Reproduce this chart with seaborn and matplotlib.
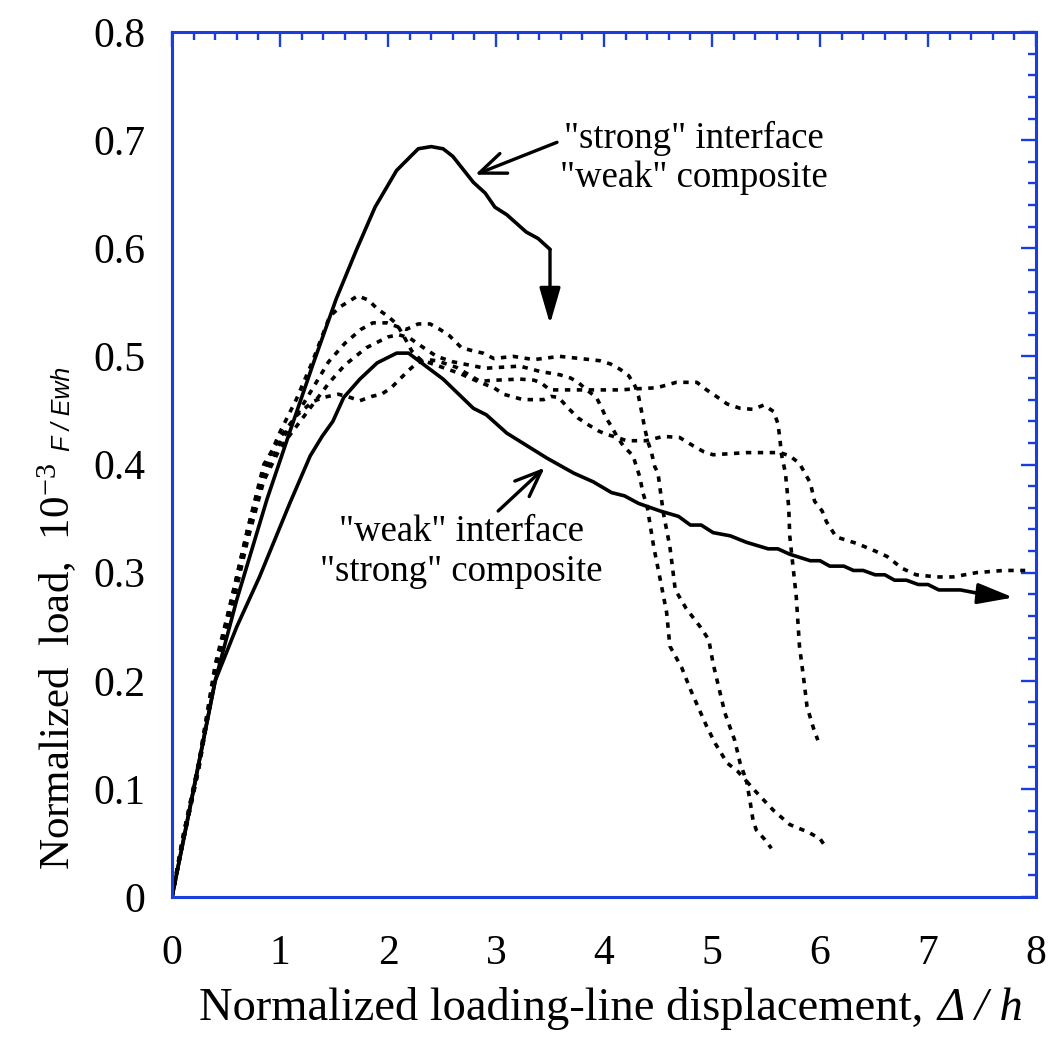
import numpy as np
import pandas as pd
import matplotlib
matplotlib.use("Agg")
import matplotlib.pyplot as plt
import seaborn as sns

# ---------------- data ----------------
strong_x = [0, 0.2, 0.4, 0.6, 0.88, 1.09, 1.31, 1.52, 1.71, 1.88, 2.08, 2.28, 2.40,
            2.51, 2.60, 2.79, 2.90, 2.99, 3.10, 3.28, 3.39, 3.50]
strong_y = [0, 0.1, 0.2, 0.275, 0.368, 0.43, 0.494, 0.553, 0.599, 0.638, 0.672, 0.692,
            0.694, 0.692, 0.685, 0.661, 0.651, 0.638, 0.631, 0.615, 0.609, 0.599]

weak_x = [0, 0.17, 0.40, 0.60, 0.81, 1.09, 1.28, 1.39, 1.49, 1.59, 1.74, 1.90, 2.08,
          2.19, 2.27, 2.51, 2.79, 2.91, 3.10, 3.47, 3.72, 3.90, 4.07, 4.19, 4.32, 4.52,
          4.69, 4.80, 4.90, 5.01, 5.17, 5.32, 5.52, 5.61, 5.72, 5.91, 6.00, 6.09, 6.22,
          6.31, 6.40, 6.51, 6.60, 6.69, 6.80, 6.91, 7.00, 7.10, 7.30, 7.51]
weak_y = [0, 0.084, 0.20, 0.25, 0.296, 0.364, 0.408, 0.426, 0.44, 0.462, 0.479, 0.494,
          0.503, 0.503, 0.497, 0.479, 0.452, 0.446, 0.429, 0.406, 0.392, 0.384, 0.374,
          0.371, 0.364, 0.357, 0.352, 0.344, 0.344, 0.337, 0.334, 0.328, 0.322, 0.322,
          0.317, 0.311, 0.311, 0.306, 0.306, 0.302, 0.302, 0.298, 0.298, 0.293, 0.293,
          0.289, 0.289, 0.284, 0.284, 0.280]

dot1_x = [0, 0.1, 0.25, 0.4, 0.55, 0.7, 0.85, 1.0, 1.15, 1.3, 1.46, 1.56, 1.72, 1.82,
          1.9, 2.0, 2.08, 2.15, 2.22, 2.3, 2.5, 2.67, 2.85, 2.98, 3.07, 3.25, 3.44, 3.51,
          3.58, 3.67, 3.76, 3.85, 3.95, 4.02, 4.12, 4.21, 4.39, 4.55, 4.70, 4.83, 4.92,
          5.01, 5.32, 5.63, 5.72, 5.81, 5.86, 5.91, 5.95, 6.02, 6.06, 6.15, 6.34, 6.51,
          6.62, 6.76, 6.89, 7.08, 7.23, 7.45, 7.70, 7.90]
dot1_y = [0, 0.055, 0.125, 0.215, 0.275, 0.34, 0.395, 0.43, 0.46, 0.495, 0.537, 0.546,
          0.556, 0.552, 0.544, 0.537, 0.53, 0.518, 0.505, 0.497, 0.49, 0.484, 0.476,
          0.471, 0.465, 0.46, 0.46, 0.463, 0.462, 0.452, 0.443, 0.437, 0.431, 0.428,
          0.425, 0.422, 0.422, 0.426, 0.425, 0.417, 0.412, 0.409, 0.411, 0.411, 0.408,
          0.401, 0.392, 0.383, 0.366, 0.357, 0.347, 0.333, 0.327, 0.320, 0.315, 0.304,
          0.298, 0.296, 0.296, 0.300, 0.302, 0.302]

dot2_x = [0, 0.1, 0.25, 0.4, 0.55, 0.7, 0.85, 1.0, 1.15, 1.3, 1.45, 1.6, 1.75, 1.86,
          1.99, 2.1, 2.17, 2.28, 2.39, 2.48, 2.57, 2.68, 2.79, 2.88, 2.98, 3.16, 3.35,
          3.59, 3.78, 3.96, 4.06, 4.15, 4.23, 4.29, 4.32, 4.35, 4.38, 4.41, 4.44, 4.47,
          4.50, 4.52, 4.55, 4.61, 4.66, 4.76, 4.89, 4.97, 5.01, 5.06, 5.12, 5.21, 5.26,
          5.32, 5.41, 5.57, 5.72, 5.89, 6.00, 6.06]
dot2_y = [0, 0.05, 0.12, 0.21, 0.27, 0.335, 0.39, 0.42, 0.445, 0.47, 0.495, 0.512,
          0.525, 0.531, 0.531, 0.527, 0.525, 0.530, 0.530, 0.525, 0.519, 0.508, 0.505,
          0.503, 0.498, 0.500, 0.497, 0.500, 0.498, 0.496, 0.493, 0.488, 0.482, 0.472,
          0.463, 0.448, 0.432, 0.420, 0.411, 0.398, 0.392, 0.377, 0.355, 0.324, 0.284,
          0.267, 0.250, 0.238, 0.216, 0.195, 0.170, 0.145, 0.124, 0.107, 0.097, 0.080,
          0.067, 0.060, 0.054, 0.045]

dot3_x = [0, 0.1, 0.25, 0.4, 0.55, 0.7, 0.85, 1.0, 1.15, 1.3, 1.45, 1.6, 1.8, 2.0,
          2.1, 2.2, 2.3, 2.45, 2.6, 2.75, 2.90, 3.22, 3.41, 3.59, 3.69, 3.76, 3.84, 3.93,
          3.98, 4.02, 4.07, 4.12, 4.18, 4.27, 4.30, 4.33, 4.36, 4.40, 4.46, 4.52, 4.58,
          4.61, 4.72, 4.80, 4.87, 4.95, 5.03, 5.14, 5.24, 5.32, 5.35, 5.38, 5.41, 5.49,
          5.55]
dot3_y = [0, 0.05, 0.12, 0.205, 0.265, 0.33, 0.385, 0.415, 0.435, 0.455, 0.475, 0.492,
          0.508, 0.518, 0.52, 0.517, 0.51, 0.50, 0.495, 0.492, 0.489, 0.491, 0.486,
          0.483, 0.48, 0.476, 0.469, 0.462, 0.452, 0.443, 0.435, 0.426, 0.417, 0.408,
          0.398, 0.389, 0.374, 0.361, 0.324, 0.294, 0.263, 0.232, 0.212, 0.192, 0.176,
          0.158, 0.142, 0.124, 0.116, 0.107, 0.09, 0.071, 0.062, 0.053, 0.045]

dot4_x = [0, 0.1, 0.25, 0.4, 0.55, 0.7, 0.85, 1.0, 1.15, 1.3, 1.40, 1.54, 1.62, 1.74,
          1.85, 1.94, 2.03, 2.11, 2.19, 2.27, 2.36, 2.45, 2.54, 2.63, 2.75, 2.85, 3.0,
          3.22, 3.35, 3.41, 3.50, 3.62, 3.78, 3.96, 4.15, 4.30, 4.49, 4.67, 4.86, 4.95,
          5.04, 5.14, 5.26, 5.38, 5.48, 5.57, 5.61, 5.63, 5.64, 5.68, 5.71, 5.72, 5.74,
          5.78, 5.81, 5.85, 5.88, 5.94, 5.98]
dot4_y = [0, 0.055, 0.125, 0.21, 0.275, 0.34, 0.40, 0.425, 0.445, 0.458, 0.462, 0.465,
          0.463, 0.459, 0.463, 0.465, 0.471, 0.479, 0.487, 0.494, 0.497, 0.496, 0.493,
          0.490, 0.483, 0.477, 0.478, 0.479, 0.478, 0.476, 0.469, 0.469, 0.469, 0.469,
          0.469, 0.470, 0.471, 0.476, 0.476, 0.469, 0.463, 0.456, 0.452, 0.451, 0.455,
          0.449, 0.438, 0.423, 0.411, 0.392, 0.361, 0.334, 0.315, 0.278, 0.232, 0.201,
          0.176, 0.156, 0.145]

# annotation arrows: (tail, head)
arrow_strong_label = [(3.565, 0.698), (2.806, 0.668)]
arrow_strong_down = [(3.50, 0.599), (3.50, 0.530)]
arrow_weak_label = [(3.02, 0.357), (3.45, 0.397)]
arrow_weak_end = [(7.51, 0.280), (7.79, 0.277)]

label_strong = ['"strong" interface', '"weak" composite']
label_strong_pos = [(4.83, 0.693), (4.83, 0.657)]
label_weak = ['"weak" interface', '"strong" composite']
label_weak_pos = [(2.68, 0.329), (2.68, 0.292)]

x_ticks = [0, 1, 2, 3, 4, 5, 6, 7, 8]
x_ticklabels = ['0', '1', '2', '3', '4', '5', '6', '7', '8']
y_ticks = [0, 0.1, 0.2, 0.3, 0.4, 0.5, 0.6, 0.7, 0.8]
y_ticklabels = ['0', '0.1', '0.2', '0.3', '0.4', '0.5', '0.6', '0.7', '0.8']

xlabel_main = 'Normalized loading-line displacement,'
xlabel_ital = '\u0394 / h'
ylabel_main = 'Normalized  load,  10$^{-3}$'
ylabel_sans = 'F / Ewh'

# ---------------- style ----------------
sns.set_theme(style="white")
plt.rcParams['font.family'] = ['Liberation Serif', 'DejaVu Serif']
plt.rcParams['mathtext.fontset'] = 'custom'
plt.rcParams['mathtext.rm'] = 'Liberation Serif'
plt.rcParams['mathtext.it'] = 'Liberation Serif:italic'
plt.rcParams['text.color'] = 'black'
plt.rcParams['axes.labelcolor'] = 'black'
plt.rcParams['xtick.labelcolor'] = 'black'
plt.rcParams['ytick.labelcolor'] = 'black'
BLUE = '#1a3ddb'

fig = plt.figure(figsize=(10.53, 10.38), dpi=100)
fig.patch.set_facecolor('white')
ax = fig.add_axes([172 / 1053, 1 - 897 / 1038, 864 / 1053, 865 / 1038])
ax.set_facecolor('white')

solid_kw = dict(color='black', linewidth=2.6, sort=False, estimator=None, ax=ax)
dot_kw = dict(color='black', linewidth=2.6, sort=False, estimator=None, ax=ax)

sns.lineplot(x=strong_x, y=strong_y, **solid_kw)
sns.lineplot(x=weak_x, y=weak_y, **solid_kw)
for xs, ys in [(dot1_x, dot1_y), (dot2_x, dot2_y), (dot3_x, dot3_y), (dot4_x, dot4_y)]:
    l = sns.lineplot(x=xs, y=ys, **dot_kw)
    l.lines[-1].set_linestyle((0, (1.5, 1.8)))

open_head = dict(arrowstyle='->, head_length=0.95, head_width=0.38', color='black',
                 lw=2.4, shrinkA=0, shrinkB=0, mutation_scale=20)
fill_head = dict(arrowstyle='-|>, head_length=1.1, head_width=0.32', color='black',
                 lw=2.4, shrinkA=0, shrinkB=0, mutation_scale=20)
for arr, st in [(arrow_strong_label, open_head), (arrow_weak_label, open_head),
                (arrow_strong_down, fill_head), (arrow_weak_end, fill_head)]:
    ax.annotate('', xy=arr[1], xytext=arr[0], arrowprops=st)

for txt, pos in zip(label_strong + label_weak, label_strong_pos + label_weak_pos):
    ax.text(pos[0], pos[1], txt, ha='center', va='baseline', fontsize=26.5,
            color='black')

ax.set_xlim(0, 8)
ax.set_ylim(0, 0.8)
ax.set_xticks(x_ticks)
ax.set_xticklabels(x_ticklabels)
ax.set_yticks(y_ticks)
ax.set_yticklabels(y_ticklabels)
ax.xaxis.set_minor_locator(matplotlib.ticker.MultipleLocator(0.2))
ax.yaxis.set_minor_locator(matplotlib.ticker.MultipleLocator(0.02))
ax.tick_params(which='both', direction='in', top=True, right=True, color=BLUE,
               width=1.7, labelcolor='black')
ax.tick_params(which='major', length=11)
ax.tick_params(which='minor', length=6)
ax.tick_params(axis='x', which='major', labelsize=30, pad=27)
ax.tick_params(axis='y', which='major', labelsize=30, pad=19)
for sp in ax.spines.values():
    sp.set_color(BLUE)
    sp.set_linewidth(2.2)
    sp.set_visible(True)

ax.set_xlabel(xlabel_main, fontsize=33.5, color='black')
ax.xaxis.label.set_ha('left')
ax.xaxis.label.set_va('baseline')
ax.xaxis.set_label_coords((199 - 172) / 864, (897 - 1020) / 865)

ax.set_ylabel(ylabel_main, fontsize=31, color='black')
ax.yaxis.label.set_ha('left')
ax.yaxis.label.set_va('baseline')
ax.yaxis.set_label_coords((70 - 172) / 864, (897 - 870) / 865)

fig.canvas.draw()
r = fig.canvas.get_renderer()
bbx = ax.xaxis.label.get_window_extent(r)
xb = fig.transFigure.inverted().transform((bbx.x1 + 14, 0))[0]
yb = 1 - 1020 / 1038
fig.text(xb, yb, xlabel_ital, fontsize=33.5, fontstyle='italic', ha='left',
         va='baseline', color='black')

bby = ax.yaxis.label.get_window_extent(r)
yy = fig.transFigure.inverted().transform((0, bby.y1 + 12))[1]
fig.text(70 / 1053, yy, ylabel_sans, fontsize=18, fontstyle='italic',
         family=['Liberation Sans', 'DejaVu Sans'], rotation=90,
         rotation_mode='anchor', ha='left', va='baseline', color='black')

fig.savefig('out.png', dpi=100)
